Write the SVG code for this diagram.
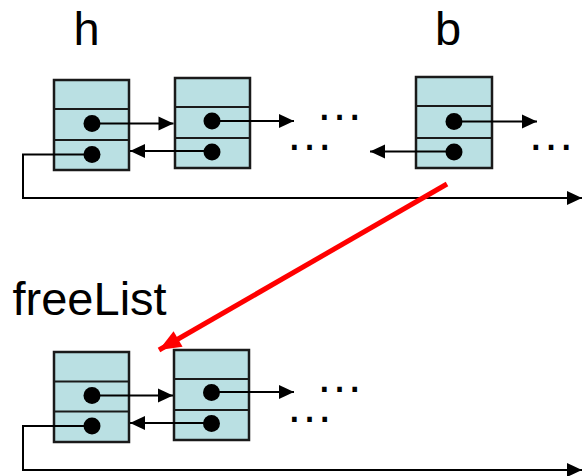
<svg xmlns="http://www.w3.org/2000/svg" width="588" height="476" viewBox="0 0 588 476">
<defs>
<marker id="ah" markerUnits="userSpaceOnUse" markerWidth="16" markerHeight="15" refX="15" refY="7" orient="auto" overflow="visible"><path d="M0,0 L15,7 L0,14 z" fill="#000"/></marker>
<marker id="rh" markerUnits="userSpaceOnUse" markerWidth="24" markerHeight="20" refX="22" refY="9" orient="auto" overflow="visible"><path d="M0,0 L22,9 L0,18 z" fill="#ff0000"/></marker>
</defs>
<style>
.box{fill:#bae0e3;stroke:#1a1a1a;stroke-width:2.5}
.div{stroke:#1a1a1a;stroke-width:2}
.dot{fill:#000}
.ln{fill:none;stroke:#000;stroke-width:2}
.lbl{font-family:"Liberation Sans",Arial,sans-serif;font-size:47px;fill:#000}
.ell{font-family:"Liberation Sans",Arial,sans-serif;font-size:48px;fill:#000}
</style>
<rect width="588" height="476" fill="#fff"/>
<g id="labels">
<text class="lbl" x="73.5" y="45">h</text>
<text class="lbl" x="435" y="45">b</text>
<text class="lbl" x="12.5" y="315">freeList</text>
</g>
<g id="node-h">
<rect class="box" x="54" y="80" width="75" height="90"/>
<line class="div" x1="54" y1="109" x2="129" y2="109"/>
<line class="div" x1="54" y1="140" x2="129" y2="140"/>
<circle class="dot" cx="92" cy="123.5" r="8.5"/>
<circle class="dot" cx="92" cy="154.5" r="8.5"/>
</g>
<g id="node-h2">
<rect class="box" x="175" y="78" width="75" height="90"/>
<line class="div" x1="175" y1="107" x2="250" y2="107"/>
<line class="div" x1="175" y1="138" x2="250" y2="138"/>
<circle class="dot" cx="212" cy="121" r="8.5"/>
<circle class="dot" cx="212" cy="152" r="8.5"/>
</g>
<g id="node-b">
<rect class="box" x="416" y="77" width="76" height="91"/>
<line class="div" x1="416" y1="106" x2="492" y2="106"/>
<line class="div" x1="416" y1="138" x2="492" y2="138"/>
<circle class="dot" cx="454" cy="121.5" r="8.5"/>
<circle class="dot" cx="454" cy="152" r="8.5"/>
</g>
<g id="node-f1">
<rect class="box" x="54" y="352" width="75" height="90"/>
<line class="div" x1="54" y1="381.5" x2="129" y2="381.5"/>
<line class="div" x1="54" y1="411.5" x2="129" y2="411.5"/>
<circle class="dot" cx="92" cy="395.5" r="8.5"/>
<circle class="dot" cx="92" cy="426" r="8.5"/>
</g>
<g id="node-f2">
<rect class="box" x="174" y="350" width="75" height="90"/>
<line class="div" x1="174" y1="379" x2="249" y2="379"/>
<line class="div" x1="174" y1="410" x2="249" y2="410"/>
<circle class="dot" cx="211.5" cy="392.5" r="8.5"/>
<circle class="dot" cx="211.5" cy="423.5" r="8.5"/>
</g>
<g id="ellipses">
<text class="ell" x="315.5" y="120">…</text>
<text class="ell" x="285.5" y="150">…</text>
<text class="ell" x="527" y="150">…</text>
<text class="ell" x="315.5" y="392">…</text>
<text class="ell" x="285.5" y="422">…</text>
</g>
<g id="connectors">
<path class="ln" d="M92,123.5 H173.5" marker-end="url(#ah)"/>
<path class="ln" d="M212,121 H294" marker-end="url(#ah)"/>
<path class="ln" d="M212,151 H130" marker-end="url(#ah)"/>
<path class="ln" d="M92,154.5 H23 V198 H582" marker-end="url(#ah)"/>
<path class="ln" d="M454,121.5 H537" marker-end="url(#ah)"/>
<path class="ln" d="M454,151.5 H370" marker-end="url(#ah)"/>
<path class="ln" d="M92,395.5 H173" marker-end="url(#ah)"/>
<path class="ln" d="M211.5,392 H294" marker-end="url(#ah)"/>
<path class="ln" d="M211.5,423 H130" marker-end="url(#ah)"/>
<path class="ln" d="M92,426 H23 V470 H582" marker-end="url(#ah)"/>
<path d="M447,184 L159,350" fill="none" stroke="#ff0000" stroke-width="5" marker-end="url(#rh)"/>
</g>
</svg>
